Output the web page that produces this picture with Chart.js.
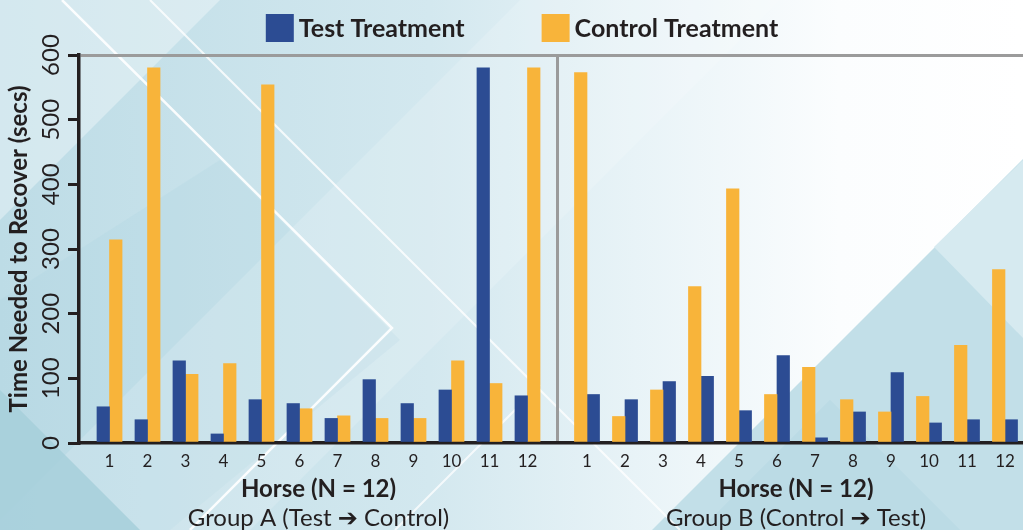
<!DOCTYPE html>
<html><head><meta charset="utf-8">
<script src="https://cdn.jsdelivr.net/npm/chart.js@4.4.1/dist/chart.umd.min.js"></script>
<style>
html,body{margin:0;padding:0;background:#fff;}
#wrap{position:relative;width:1023px;height:530px;overflow:hidden;}
#bg,#c{position:absolute;left:0;top:0;}
</style></head><body>
<div id="wrap">
<svg id="bg" width="1023" height="530" xmlns="http://www.w3.org/2000/svg">
<defs>
<linearGradient id="g0" x1="0" y1="0" x2="1" y2="0">
<stop offset="0" stop-color="#bddce6"/>
<stop offset="0.42" stop-color="#d3e8ef"/>
<stop offset="0.62" stop-color="#e8f3f7"/>
<stop offset="0.82" stop-color="#fbfdfe"/>
<stop offset="1" stop-color="#ffffff"/>
</linearGradient>
</defs>
<rect width="1023" height="530" fill="url(#g0)"/>
<polygon points="0,0 220,0 0,220" fill="#ffffff" opacity="0.35"/>
<polygon points="0,300 220,160 400,340 170,530 0,530" fill="#a9d1dd" opacity="0.22"/>
<polygon points="520,0 780,0 250,530 0,530 0,520" fill="#ffffff" opacity="0.16"/>
<polygon points="0,390 0,530 140,530" fill="#a6cfdb" opacity="0.85"/>
<polygon points="652,530 1023,159 1023,530" fill="#c2dfe8"/>
<polygon points="700,530 830,400 960,530" fill="#b6d8e2" opacity="0.6"/>
<polygon points="934,247 1023,160 1023,338" fill="#d6eaf0"/>
<polyline points="62,0 392,328 190,530" fill="none" stroke="#ffffff" stroke-width="2.5" opacity="0.9"/>
<line x1="150" y1="0" x2="680" y2="530" stroke="#ffffff" stroke-width="2" opacity="0.8"/>
<line x1="395" y1="530" x2="540" y2="385" stroke="#ffffff" stroke-width="2" opacity="0.75"/>
</svg>
<canvas id="c" width="1023" height="530"></canvas>
</div>
<script>
// ---- data ----
const horses = ['1','2','3','4','5','6','7','8','9','10','11','12'];
const groupATest    = [56, 36, 127, 14, 67, 61, 38, 98, 61, 82, 580, 73];
const groupAControl = [314, 580, 106, 123, 554, 53, 42, 38, 38, 127, 92, 580];
const groupBControl = [573, 41, 82, 242, 393, 75, 117, 67, 48, 72, 151, 268];
const groupBTest    = [75, 67, 95, 103, 50, 135, 8, 48, 109, 31, 36, 36];
const yTicks = [0, 100, 200, 300, 400, 500, 600];
const seriesNames = ['Test Treatment', 'Control Treatment'];
const groupTitle = 'Horse (N = 12)';
const groupNames = ['Group A (Test \u2794 Control)', 'Group B (Control \u2794 Test)'];
const yTitle = 'Time Needed to Recover (secs)';

// ---- layout (not data) ----
const BLUE = '#2c4c93', ORANGE = '#f8b43a', INK = '#231f20', GRAY = '#9b9b9b';
const FONT = 'Lato, "DejaVu Sans", sans-serif';
const GROUP_SHIFT = 12.566;   // horizontal offset of group B slots
const HALF = 0.165;           // half a bar, in slot units
const X_MIN = 0.197, X_MAX = 25.04;

const posA = horses.map((h, i) => i + 1);
const posB = horses.map((h, i) => i + 1 + GROUP_SHIFT);
const divider = (posA[posA.length - 1] + posB[0]) / 2;
const xTickValues = [...posA, divider, ...posB];
const xTickLabels = [...horses, '', ...horses];
const dividerIndex = posA.length;
const groupCenters = [(posA[0] + posA[posA.length - 1]) / 2, (posB[0] + posB[posB.length - 1]) / 2];

function pts(pos, vals, dx) { return pos.map((p, i) => ({ x: p + dx, y: vals[i] })); }

const legendPlugin = {
  id: 'customLegend',
  afterDraw(chart, args, o) {
    const ctx = chart.ctx;
    const items = chart.data.datasets.slice(0, 2).map(d => ({ text: d.label, color: d.backgroundColor }));
    ctx.save();
    ctx.font = 'bold 25px ' + FONT;
    ctx.textBaseline = 'alphabetic';
    const widths = items.map(it => o.box + o.textGap + ctx.measureText(it.text).width);
    const total = widths.reduce((a, b) => a + b, 0) + o.itemGap * (items.length - 1);
    let x = o.centerX - total / 2;
    items.forEach((it, i) => {
      ctx.fillStyle = it.color;
      ctx.fillRect(x, o.top, o.box, o.box);
      ctx.fillStyle = INK;
      ctx.fillText(it.text, x + o.box + o.textGap, o.baseline);
      x += widths[i] + o.itemGap;
    });
    ctx.restore();
  }
};

const xCommon = { type: 'linear', position: 'bottom', min: X_MIN, max: X_MAX, offset: false, bounds: 'data' };

new Chart(document.getElementById('c'), {
  type: 'bar',
  data: {
    datasets: [
      { label: seriesNames[0], data: pts(posA, groupATest, -HALF), backgroundColor: BLUE },
      { label: seriesNames[1], data: pts(posA, groupAControl, HALF), backgroundColor: ORANGE },
      { label: seriesNames[1] + ' B', data: pts(posB, groupBControl, -HALF), backgroundColor: ORANGE },
      { label: seriesNames[0] + ' B', data: pts(posB, groupBTest, HALF), backgroundColor: BLUE }
    ]
  },
  plugins: [legendPlugin],
  options: {
    responsive: false,
    animation: false,
    devicePixelRatio: 1,
    layout: { padding: { top: 55, right: 0, bottom: 0, left: 0 } },
    datasets: { bar: { grouped: false, categoryPercentage: 1, barPercentage: 1, borderWidth: 0 } },
    plugins: {
      legend: { display: false },
      tooltip: { enabled: false },
      customLegend: { box: 28, textGap: 5, itemGap: 77, centerX: 522, top: 14, baseline: 37 }
    },
    scales: {
      x: Object.assign({}, xCommon, {
        weight: 0,
        afterBuildTicks: s => { s.ticks = xTickValues.map(v => ({ value: v })); },
        ticks: { autoSkip: false, maxRotation: 0, minRotation: 0, padding: 8, color: INK,
                 font: { family: FONT, size: 17 }, callback: (v, i) => xTickLabels[i] },
        grid: { offset: false, drawTicks: false, drawOnChartArea: true, lineWidth: 3,
                color: c => (c.index === dividerIndex ? GRAY : 'rgba(0,0,0,0)') },
        border: { display: true, color: INK, width: 3.5 },
        afterFit: s => { s.height = 27; }
      }),
      xHorse: Object.assign({}, xCommon, {
        weight: 1,
        afterBuildTicks: s => { s.ticks = groupCenters.map(v => ({ value: v })); },
        ticks: { autoSkip: false, maxRotation: 0, minRotation: 0, padding: 5, color: INK,
                 font: { family: FONT, size: 24, weight: 'bold' }, callback: () => groupTitle },
        grid: { display: false, drawTicks: false, offset: false },
        border: { display: false },
        afterFit: s => { s.height = 30; }
      }),
      xGroup: Object.assign({}, xCommon, {
        weight: 2,
        afterBuildTicks: s => { s.ticks = groupCenters.map(v => ({ value: v })); },
        ticks: { autoSkip: false, maxRotation: 0, minRotation: 0, padding: 4, color: INK,
                 font: { family: FONT, size: 24 }, callback: (v, i) => groupNames[i] },
        grid: { display: false, drawTicks: false, offset: false },
        border: { display: false },
        afterFit: s => { s.height = 30; }
      }),
      y: {
        type: 'linear', position: 'left', min: 0, max: 600,
        afterBuildTicks: s => { s.ticks = yTicks.map(v => ({ value: v })); },
        ticks: { minRotation: 90, maxRotation: 90, crossAlign: 'center', padding: -4, color: INK,
                 font: { family: FONT, size: 24 } },
        grid: { drawOnChartArea: true, lineWidth: 3, tickLength: 11, tickWidth: 3, tickColor: INK,
                color: c => (c.tick && c.tick.value === 600 ? GRAY : 'rgba(0,0,0,0)') },
        border: { display: true, color: INK, width: 3.5 },
        title: { display: true, text: yTitle, color: INK, padding: { top: 5, bottom: 0 },
                 font: { family: FONT, size: 24, weight: 'bold' } },
        afterFit: s => { s.width = 79; }
      }
    }
  }
});
</script>
</body></html>
